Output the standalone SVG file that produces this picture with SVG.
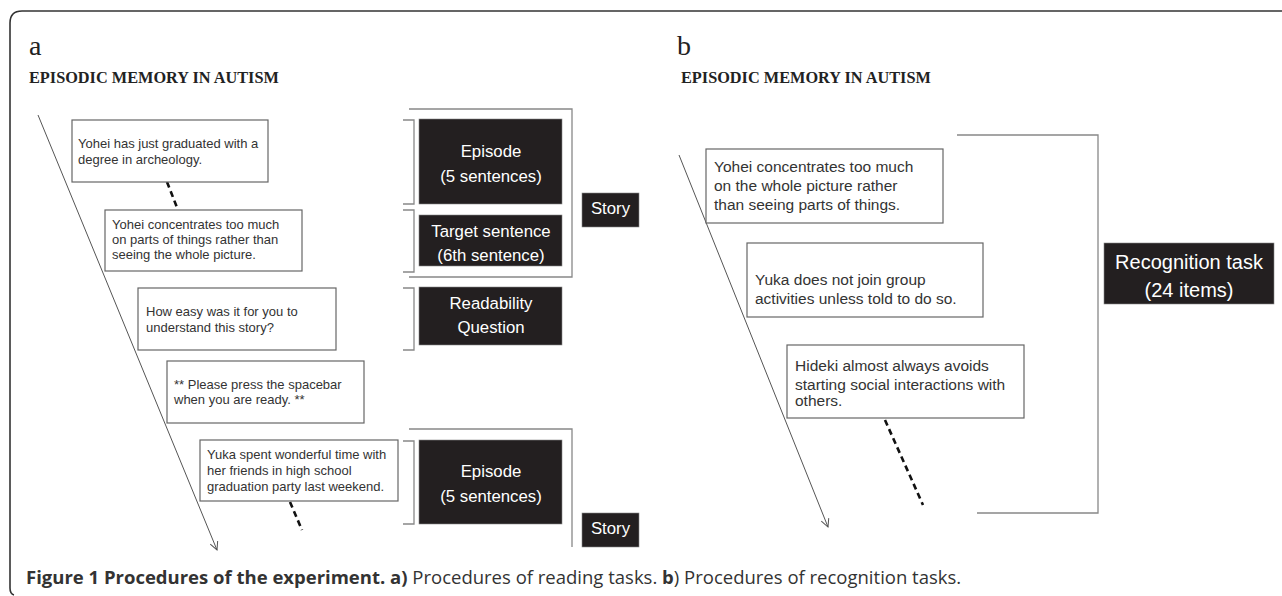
<svg xmlns="http://www.w3.org/2000/svg" width="1282" height="596" viewBox="0 0 1282 596">
<defs>
<marker id="arr" viewBox="0 0 10 10" refX="9" refY="5" markerWidth="10" markerHeight="10" markerUnits="userSpaceOnUse" orient="auto">
<path d="M1,1 L9,5 L1,9" fill="none" stroke="#555" stroke-width="1"/>
</marker>
<style>
.frame{fill:none;stroke:#333;stroke-width:1.6}
.box{fill:#fff;stroke:#666;stroke-width:1.2}
.blk{fill:#231f20;stroke:#888;stroke-width:0.6}
.brk{fill:none;stroke:#888;stroke-width:1.3}
.time{fill:none;stroke:#555;stroke-width:1}
.dash{fill:none;stroke:#111;stroke-width:2.6;stroke-dasharray:6 4}
.ta{font-family:"Liberation Sans",Arial,sans-serif;font-size:13px;fill:#333}
.tb{font-family:"Liberation Sans",Arial,sans-serif;font-size:15.5px;fill:#333}
.tw{font-family:"Liberation Sans",Arial,sans-serif;font-size:16.8px;fill:#fff;text-anchor:middle}
.tr{font-family:"Liberation Sans",Arial,sans-serif;font-size:20px;fill:#fff;text-anchor:middle}
.lab{font-family:"Liberation Serif","Times New Roman",serif;font-size:28px;fill:#222}
.hd{font-family:"Liberation Serif","Times New Roman",serif;font-size:16.3px;font-weight:bold;fill:#222}
.cap{font-family:"Open Sans","Noto Sans",sans-serif;font-size:18.5px;fill:#333}
</style>
</defs>
<path class="frame" d="M1282,11 H22 Q10,11 10,23 V588 Q10,594 14,595"/>
<g id="labels">
<text class="lab" x="29" y="55">a</text>
<text class="hd" x="29" y="83">EPISODIC MEMORY IN AUTISM</text>
<text class="lab" x="677" y="55">b</text>
<text class="hd" x="681" y="83">EPISODIC MEMORY IN AUTISM</text>
</g>
<g id="connectors">
<line class="time" x1="38" y1="115" x2="217" y2="550" marker-end="url(#arr)"/>
<line class="time" x1="679" y1="155" x2="828" y2="527" marker-end="url(#arr)"/>
<line class="dash" x1="167" y1="182" x2="178" y2="210"/>
<line class="dash" x1="290" y1="502" x2="302" y2="530"/>
<line class="dash" x1="885" y1="420" x2="923" y2="505"/>
</g>
<g id="brackets">
<path class="brk" d="M409,109 H572 V277 H409"/>
<path class="brk" d="M403,120 H414 V204 H403"/>
<path class="brk" d="M403,210 H414 V272 H403"/>
<path class="brk" d="M403,288 H414 V350 H403"/>
<path class="brk" d="M409,429 H572 V547"/>
<path class="brk" d="M403,441 H414 V524 H403"/>
<path class="brk" d="M957,135 H1098 V513 H977"/>
</g>
<g id="a-box1"><rect class="box" x="72" y="120" width="196" height="62"/>
<text class="ta" x="78" y="148">Yohei has just graduated with a</text>
<text class="ta" x="78" y="164">degree in archeology.</text></g>
<g id="a-box2"><rect class="box" x="105" y="210" width="197" height="61"/>
<text class="ta" x="112" y="229">Yohei concentrates too much</text>
<text class="ta" x="112" y="244">on parts of things rather than</text>
<text class="ta" x="112" y="259">seeing the whole picture.</text></g>
<g id="a-box3"><rect class="box" x="138" y="288" width="198" height="62"/>
<text class="ta" x="146" y="316">How easy was it for you to</text>
<text class="ta" x="146" y="332">understand this story?</text></g>
<g id="a-box4"><rect class="box" x="167" y="361" width="197" height="62"/>
<text class="ta" x="174" y="389">** Please press the spacebar</text>
<text class="ta" x="174" y="404">when you are ready. **</text></g>
<g id="a-box5"><rect class="box" x="200" y="440" width="198" height="61"/>
<text class="ta" x="207" y="459">Yuka spent wonderful time with</text>
<text class="ta" x="207" y="475">her friends in high school</text>
<text class="ta" x="207" y="491">graduation party last weekend.</text></g>
<g id="a-episode1"><rect class="blk" x="419" y="119" width="143" height="85"/>
<text class="tw" x="491" y="157">Episode</text>
<text class="tw" x="491" y="182">(5 sentences)</text></g>
<g id="a-target"><rect class="blk" x="419" y="215" width="143" height="51"/>
<text class="tw" x="491" y="237">Target sentence</text>
<text class="tw" x="491" y="261">(6th sentence)</text></g>
<g id="a-readability"><rect class="blk" x="419" y="287" width="143" height="58"/>
<text class="tw" x="491" y="309">Readability</text>
<text class="tw" x="491" y="333">Question</text></g>
<g id="a-story1"><rect class="blk" x="582" y="193" width="57" height="34"/>
<text class="tw" x="610.5" y="214">Story</text></g>
<g id="a-episode2"><rect class="blk" x="419" y="440" width="143" height="84"/>
<text class="tw" x="491" y="477">Episode</text>
<text class="tw" x="491" y="502">(5 sentences)</text></g>
<g id="a-story2"><rect class="blk" x="582" y="513" width="57" height="34"/>
<text class="tw" x="610.5" y="534">Story</text></g>
<g id="b-box1"><rect class="box" x="706" y="149" width="237" height="74"/>
<text class="tb" x="714" y="172">Yohei concentrates too much</text>
<text class="tb" x="714" y="191">on the whole picture rather</text>
<text class="tb" x="714" y="210">than seeing parts of things.</text></g>
<g id="b-box2"><rect class="box" x="747" y="243" width="236" height="74"/>
<text class="tb" x="755" y="285">Yuka does not join group</text>
<text class="tb" x="755" y="304">activities unless told to do so.</text></g>
<g id="b-box3"><rect class="box" x="787" y="345" width="237" height="73"/>
<text class="tb" x="795" y="371">Hideki almost always avoids</text>
<text class="tb" x="795" y="390">starting social interactions with</text>
<text class="tb" x="795" y="406">others.</text></g>
<g id="b-recognition"><rect class="blk" x="1104" y="243" width="170" height="61"/>
<text class="tr" x="1189" y="269">Recognition task</text>
<text class="tr" x="1189" y="297">(24 items)</text></g>
<text class="cap" x="26" y="584"><tspan font-weight="bold">Figure 1 Procedures of the experiment. a)</tspan> Procedures of reading tasks. <tspan font-weight="bold">b</tspan>) Procedures of recognition tasks.</text>
</svg>
